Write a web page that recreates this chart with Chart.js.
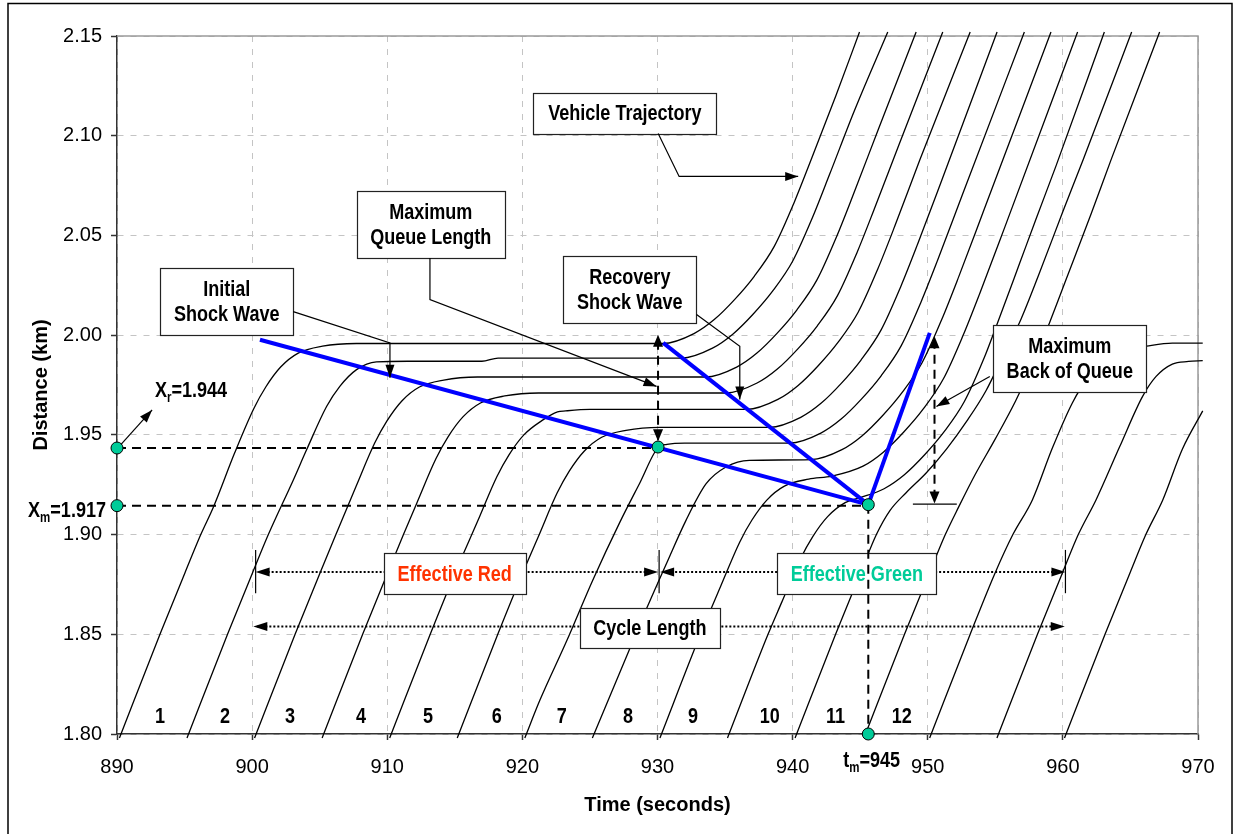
<!DOCTYPE html>
<html>
<head>
<meta charset="utf-8">
<script src="https://cdn.jsdelivr.net/npm/chart.js@4.4.1/dist/chart.umd.min.js"></script>
<style>
html,body{margin:0;padding:0;background:#fff;}
#wrap{width:1233px;height:834px;position:relative;}
</style>
</head>
<body>
<div id="wrap"><canvas id="c" width="1233" height="834"></canvas></div>
<script>
// ---------------- DATA ----------------
const timeTicks = [890, 900, 910, 920, 930, 940, 950, 960, 970];
const distTicks = [1.80, 1.85, 1.90, 1.95, 2.00, 2.05, 2.10, 2.15];
const vehicleNumbers = ['1','2','3','4','5','6','7','8','9','10','11','12'];
const vehicleNumberTimes = [893.18, 897.99, 902.8, 908.05, 913.01, 918.11, 922.92, 927.81, 932.62, 938.31, 943.17, 948.08];

// vehicle trajectories [time (s), distance (km)]
const traj01 = [[890.18,1.798],[893.18,1.85],[895.04,1.881],[896.2,1.90],[897.13,1.9137],[898.71,1.941],[900.11,1.963],[901.01,1.974],[902.11,1.984],[903.41,1.991],[905.21,1.9945],[907.71,1.9958],[930.4,1.9958],[932.7,2.0008],[934.2,2.0078],[935.7,2.0178],[937.16,2.0295],[938.64,2.0445],[940.1,2.0663],[941.36,2.0878],[943.2,2.120],[944.95,2.152]];
const traj02 = [[895.18,1.798],[898.18,1.85],[900.04,1.881],[901.2,1.90],[903.05,1.9274],[904.03,1.9425],[905.51,1.9642],[906.49,1.9743],[907.73,1.9827],[909.2,1.9866],[911.5,1.9869],[917.0,1.9869],[918.2,1.9885],[931.77,1.9885],[934.07,1.9935],[935.57,2.0005],[937.07,2.0105],[938.53,2.0222],[940.01,2.0372],[941.47,2.059],[942.73,2.0805],[944.57,2.1125],[947.04,2.152]];
const traj03 = [[900.18,1.798],[903.18,1.85],[905.04,1.881],[906.2,1.90],[907.68,1.924],[909.08,1.946],[909.98,1.957],[911.08,1.967],[912.38,1.974],[914.18,1.9775],[916.68,1.979],[933.56,1.979],[935.86,1.984],[937.36,1.991],[938.86,2.001],[940.32,2.0127],[941.8,2.0277],[943.26,2.0495],[944.52,2.071],[946.36,2.1035],[949.14,2.152]];
const traj04 = [[905.18,1.798],[908.18,1.85],[910.04,1.881],[911.2,1.90],[912.2,1.916],[913.6,1.938],[914.5,1.949],[915.6,1.959],[916.9,1.966],[918.7,1.9695],[921.2,1.971],[935.07,1.971],[937.37,1.976],[938.87,1.983],[940.37,1.993],[941.83,2.0047],[943.31,2.0197],[944.77,2.0415],[946.03,2.063],[947.87,2.0955],[951.11,2.152]];
const traj05 = [[910.18,1.798],[913.18,1.85],[915.04,1.881],[916.71,1.907],[918.11,1.929],[919.01,1.94],[920.11,1.95],[921.41,1.957],[922.6,1.9615],[923.2,1.962],[925.0,1.9628],[936.61,1.9628],[938.91,1.9678],[940.41,1.9748],[941.91,1.9848],[943.37,1.9965],[944.85,2.0115],[946.31,2.0333],[947.57,2.0548],[949.41,2.0878],[953.14,2.152]];
const traj06 = [[915.18,1.798],[918.18,1.85],[920.04,1.881],[921.17,1.8988],[922.57,1.9208],[923.47,1.9318],[924.57,1.9418],[925.87,1.9488],[927.67,1.9523],[930.17,1.9538],[938.3,1.9538],[940.6,1.9588],[942.1,1.9658],[943.6,1.9758],[945.06,1.9875],[946.54,2.0025],[948.0,2.0243],[949.26,2.0458],[951.1,2.0788],[955.13,2.152]];
const traj07 = [[920.18,1.798],[921.3,1.817],[923.3,1.847],[925.2,1.877],[927.2,1.906],[928.7,1.926],[930.04,1.9436],[930.7,1.9452],[932.0,1.9459],[939.79,1.9459],[942.09,1.9509],[943.59,1.9579],[945.09,1.9679],[946.55,1.9796],[948.03,1.9946],[949.49,2.0164],[950.75,2.0379],[952.59,2.0709],[957.15,2.152]];
const traj08 = [[925.18,1.798],[927.9,1.842],[929.2,1.863],[930.7,1.886],[932.1,1.907],[933.6,1.9255],[935.1,1.934],[936.8,1.9372],[941.35,1.9376],[943.65,1.9426],[945.15,1.9496],[946.65,1.9596],[948.11,1.9713],[949.59,1.9863],[951.05,2.0081],[952.31,2.0296],[954.15,2.0626],[959.12,2.152]];
const traj09 = [[930.18,1.798],[933.18,1.85],[934.69,1.8743],[936.09,1.8963],[936.99,1.9073],[938.09,1.9173],[939.39,1.9243],[941.19,1.9278],[942.91,1.9293],[945.21,1.9343],[946.71,1.9413],[948.21,1.9513],[949.67,1.963],[951.15,1.978],[952.61,1.9998],[953.87,2.0213],[955.71,2.0543],[961.09,2.152]];
const traj10 = [[935.18,1.798],[938.18,1.85],[939.19,1.866],[940.59,1.888],[941.49,1.899],[942.59,1.909],[943.89,1.916],[945.0,1.9185],[946.77,1.923],[948.27,1.930],[949.77,1.940],[951.23,1.9517],[952.71,1.9667],[954.17,1.9885],[955.1,2.005],[956.8,2.036],[958.0,2.058],[959.5,2.085],[963.07,2.152]];
const traj11 = [[940.18,1.798],[943.18,1.85],[945.04,1.881],[946.2,1.90],[947.2,1.912],[948.4,1.921],[949.9,1.931],[951.4,1.943],[952.9,1.957],[954.3,1.972],[955.6,1.99],[956.9,2.008],[958.2,2.03],[960.0,2.062],[961.5,2.088],[965.09,2.152]];
const traj12 = [[945.28,1.798],[948.28,1.85],[950.14,1.881],[951.3,1.90],[952.3,1.914],[953.5,1.93],[955.0,1.948],[956.5,1.967],[957.8,1.986],[959.0,2.006],[960.3,2.029],[962.1,2.061],[963.57,2.088],[967.16,2.152]];
const traj13 = [[950.14,1.798],[953.14,1.85],[955.0,1.881],[956.3,1.90],[957.75,1.9175],[959.2,1.943],[960.7,1.966],[961.9,1.979],[963.3,1.988],[965.0,1.993],[966.2,1.9945],[968.1,1.996],[970.35,1.996]];
const traj14 = [[955.12,1.798],[958.12,1.85],[959.98,1.881],[961.14,1.90],[962.46,1.9175],[964.2,1.944],[965.9,1.9693],[966.9,1.9793],[968.1,1.9855],[969.3,1.9868],[970.35,1.9872]];
const traj15 = [[960.12,1.798],[963.12,1.85],[964.98,1.881],[966.14,1.90],[967.4,1.9175],[968.84,1.9428],[970.35,1.962]];

// shock waves
const shockInitial  = [[900.58,1.9977],[945.6,1.915]];
const shockRecovery = [[930.42,1.9961],[945.6,1.915]];
const shockFront    = [[945.6,1.915],[950.15,2.0011]];

// reference points and guide lines
const keyPoints   = [[890,1.9434],[890,1.9145],[930.04,1.9439],[945.6,1.915],[945.6,1.80]];
const xrGuide     = [[890,1.9434],[930.04,1.9434]];
const xmGuide     = [[890,1.9145],[945.6,1.9145]];
const tmGuide     = [[945.6,1.915],[945.6,1.80]];
const queueGuide  = [[930.04,1.9475],[930.04,1.998]];
const backGuide   = [[950.5,1.918],[950.5,1.997]];

// signal timing (s)
const redStart = 900.26, greenStart = 930.12, cycleEnd = 960.19;
const cycleStartArrow = 900.09, cycleEndArrow = 960.14;

// ---------------- DRAWING ----------------
const FONT = '"Liberation Sans", Arial, Helvetica, sans-serif';
const toXY = a => a.map(p => ({x:p[0], y:p[1]}));

const trajectories = [traj01,traj02,traj03,traj04,traj05,traj06,traj07,traj08,traj09,traj10,traj11,traj12,traj13,traj14,traj15];
const datasets = trajectories.map(tr => ({
  data: toXY(tr), showLine:true, borderColor:'#000', borderWidth:1.3, pointRadius:0,
  cubicInterpolationMode:'monotone', order:10, clip:{left:6,top:6,right:6,bottom:6}
}));
[xrGuide, xmGuide, tmGuide, queueGuide, backGuide].forEach(g => datasets.push({
  data: toXY(g), showLine:true, borderColor:'#000', borderWidth:2, borderDash:[9,6],
  pointRadius:0, order:3, clip:false
}));
[shockInitial, shockRecovery, shockFront].forEach(s => datasets.push({
  data: toXY(s), showLine:true, borderColor:'#0000FF', borderWidth:4, pointRadius:0, order:2, clip:false
}));
datasets.push({
  data: toXY(keyPoints), showLine:false, pointRadius:6, pointBackgroundColor:'#00CC99',
  pointBorderColor:'#000', pointBorderWidth:1, order:0, clip:false
});

const boxes = [
  {lines:['Vehicle Trajectory'], t:927.59, d:2.1113, w:183, h:41},
  {lines:['Maximum','Queue Length'], t:913.22, d:2.0556, w:148, h:67},
  {lines:['Initial','Shock Wave'], t:898.12, d:2.0168, w:133, h:67},
  {lines:['Recovery','Shock Wave'], t:927.95, d:2.0228, w:133, h:67},
  {lines:['Maximum','Back of Queue'], t:960.51, d:1.9885, w:153, h:67},
  {lines:['Effective Red'], t:914.99, d:1.8804, w:142, h:41, color:'#FF3300'},
  {lines:['Effective Green'], t:944.75, d:1.8804, w:159, h:41, color:'#00CC99'},
  {lines:['Cycle Length'], t:929.43, d:1.853, w:140, h:40}
];
const leaders = [
  [[930.05,2.1011],[931.6,2.0796],[940.41,2.0796]],
  [[913.16,2.0387],[913.16,2.0178],[929.93,1.9743]],
  [[903.04,2.0118],[910.2,1.9961],[910.2,1.9786]],
  [[932.89,2.0103],[936.09,1.9944],[936.09,1.9677]],
  [[954.59,1.9793],[950.64,1.9642]],
  [[890.3,1.9452],[892.6,1.9625]]
];

function ntext(ctx, str, x, y, size, color, align, baseline){
  ctx.save();
  ctx.font = 'bold ' + size + 'px ' + FONT;
  ctx.fillStyle = color || '#000';
  ctx.textAlign = align || 'center';
  ctx.textBaseline = baseline || 'middle';
  ctx.translate(x, y); ctx.scale(0.82, 1);
  ctx.fillText(str, 0, 0);
  ctx.restore();
}
function nwidth(ctx, str, size){
  ctx.save(); ctx.font = 'bold ' + size + 'px ' + FONT;
  const w = ctx.measureText(str).width * 0.82; ctx.restore(); return w;
}
function head(ctx, x1, y1, x2, y2, len, half){
  const a = Math.atan2(y2-y1, x2-x1);
  const c = Math.cos(a), s = Math.sin(a);
  ctx.beginPath();
  ctx.moveTo(x2, y2);
  ctx.lineTo(x2 - len*c + half*s, y2 - len*s - half*c);
  ctx.lineTo(x2 - len*c - half*s, y2 - len*s + half*c);
  ctx.closePath(); ctx.fill();
}
function subLabel(ctx, x, y, main, sub, rest){
  let cx = x;
  ntext(ctx, main, cx, y, 22, '#000', 'left', 'alphabetic'); cx += nwidth(ctx, main, 22);
  ntext(ctx, sub, cx, y + 5, 14, '#000', 'left', 'alphabetic'); cx += nwidth(ctx, sub, 14);
  ntext(ctx, rest, cx, y, 22, '#000', 'left', 'alphabetic');
}

const annot = {
  id:'annot',
  beforeDraw(chart){
    const ctx = chart.ctx; ctx.save(); ctx.fillStyle = '#fff';
    ctx.fillRect(0, 0, chart.width, chart.height); ctx.restore();
  },
  beforeDatasetsDraw(chart){
    const {ctx, chartArea:a} = chart;
    ctx.save(); ctx.strokeStyle = '#9a9a9a'; ctx.lineWidth = 1.5;
    ctx.beginPath(); ctx.moveTo(a.left, a.top); ctx.lineTo(a.right, a.top); ctx.lineTo(a.right, a.bottom); ctx.stroke();
    ctx.restore();
  },
  afterDatasetDraw(chart, args){
    if (args.index !== 0) return;
    const ctx = chart.ctx, X = chart.scales.x, Y = chart.scales.y;
    const px = v => X.getPixelForValue(v), py = v => Y.getPixelForValue(v);
    // dimension lines
    ctx.save();
    ctx.strokeStyle = '#000'; ctx.fillStyle = '#000'; ctx.lineWidth = 2; ctx.setLineDash([2,2]);
    const yRG = py(1.8812), yC = py(1.8539);
    ctx.beginPath(); ctx.moveTo(px(redStart)+4, yRG); ctx.lineTo(px(greenStart)-4, yRG); ctx.stroke();
    ctx.beginPath(); ctx.moveTo(px(greenStart)+4, yRG); ctx.lineTo(px(cycleEnd)-4, yRG); ctx.stroke();
    ctx.beginPath(); ctx.moveTo(px(cycleStartArrow)+4, yC); ctx.lineTo(px(cycleEndArrow)-4, yC); ctx.stroke();
    ctx.setLineDash([]); ctx.lineWidth = 1.2;
    [redStart, greenStart, cycleEnd].forEach(t => {
      ctx.beginPath(); ctx.moveTo(px(t), py(1.8923)); ctx.lineTo(px(t), py(1.8706)); ctx.stroke();
    });
    head(ctx, px(redStart)+20, yRG, px(redStart), yRG, 14, 4.5);
    head(ctx, px(greenStart)-20, yRG, px(greenStart)-1, yRG, 14, 4.5);
    head(ctx, px(greenStart)+20, yRG, px(greenStart)+1, yRG, 14, 4.5);
    head(ctx, px(cycleEnd)-20, yRG, px(cycleEnd), yRG, 14, 4.5);
    head(ctx, px(cycleStartArrow)+20, yC, px(cycleStartArrow), yC, 14, 4.5);
    head(ctx, px(cycleEndArrow)-20, yC, px(cycleEndArrow), yC, 14, 4.5);
    // boxes
    boxes.forEach(b => {
      const cx = px(b.t), cy = py(b.d);
      const x0 = Math.round(cx - b.w/2) + 0.5, y0 = Math.round(cy - b.h/2) + 0.5;
      ctx.fillStyle = '#fff'; ctx.fillRect(x0, y0, b.w, b.h);
      ctx.strokeStyle = '#222'; ctx.lineWidth = 1.2; ctx.strokeRect(x0, y0, b.w, b.h);
      const n = b.lines.length;
      b.lines.forEach((ln, i) => {
        const ly = cy + (i - (n-1)/2) * 25 + 1;
        ntext(ctx, ln, cx, ly, 22, b.color || '#000', 'center', 'middle');
      });
    });
    ctx.restore();
  },
  afterDatasetsDraw(chart){
    const ctx = chart.ctx, X = chart.scales.x, Y = chart.scales.y;
    const px = v => X.getPixelForValue(v), py = v => Y.getPixelForValue(v);
    ctx.save();
    ctx.strokeStyle = '#000'; ctx.fillStyle = '#000'; ctx.lineWidth = 1.2; ctx.setLineDash([]);
    // leader lines with arrows
    leaders.forEach(L => {
      const pts = L.map(p => [px(p[0]), py(p[1])]);
      ctx.beginPath(); ctx.moveTo(pts[0][0], pts[0][1]);
      for (let i = 1; i < pts.length; i++) ctx.lineTo(pts[i][0], pts[i][1]);
      ctx.stroke();
      const a = pts[pts.length-2], b = pts[pts.length-1];
      head(ctx, a[0], a[1], b[0], b[1], 13, 4.5);
    });
    // dashed guide arrowheads
    head(ctx, px(930.04), py(1.98), px(930.04), py(2.0002), 12, 5);
    head(ctx, px(930.04), py(1.96), px(930.04), py(1.9468), 12, 5);
    head(ctx, px(950.5), py(1.98), px(950.5), py(1.9994), 12, 5);
    head(ctx, px(950.5), py(1.93), px(950.5), py(1.9156), 12, 5);
    // back-of-queue reference tick
    ctx.beginPath(); ctx.moveTo(px(948.9), py(1.9153)); ctx.lineTo(px(952.15), py(1.9153)); ctx.stroke();
    // labels
    subLabel(ctx, px(892.81), py(1.969), 'X', 'r', '=1.944');
    subLabel(ctx, px(883.42), py(1.909), 'X', 'm', '=1.917');
    subLabel(ctx, px(943.74), py(1.7836), 't', 'm', '=945');
    vehicleNumbers.forEach((s, i) => ntext(ctx, s, px(vehicleNumberTimes[i]), py(1.8054), 22, '#000', 'center', 'alphabetic'));
    // axis titles
    ctx.font = 'bold 20px ' + FONT; ctx.textAlign = 'center'; ctx.textBaseline = 'middle';
    ctx.fillText('Time (seconds)', (chart.chartArea.left + chart.chartArea.right)/2, 805);
    ctx.save(); ctx.translate(41, (chart.chartArea.top + chart.chartArea.bottom)/2); ctx.rotate(-Math.PI/2);
    ctx.fillText('Distance (km)', 0, 0); ctx.restore();
    // outer frame
    ctx.strokeStyle = '#000'; ctx.lineWidth = 1.5;
    ctx.strokeRect(8, 3.5, 1224, 850);
    ctx.restore();
  }
};

new Chart(document.getElementById('c').getContext('2d'), {
  type:'scatter',
  data:{datasets},
  options:{
    responsive:false, animation:false, devicePixelRatio:1,
    layout:{padding:{left:0, right:35, top:36, bottom:0}},
    plugins:{legend:{display:false}, tooltip:{enabled:false}},
    scales:{
      x:{
        type:'linear', min:890, max:970,
        afterBuildTicks: s => { s.ticks = timeTicks.map(v => ({value:v})); },
        ticks:{color:'#000', font:{size:20, family:FONT}, padding:15, maxRotation:0, callback: v => String(v)},
        grid:{color:'#c4c4c4', lineWidth:1, tickLength:6, tickColor:'#333', tickWidth:1.5},
        border:{color:'#333', width:1.5, dash:[6,7]},
        afterFit: s => { s.height = 100; }
      },
      y:{
        type:'linear', min:1.80, max:2.15,
        afterBuildTicks: s => { s.ticks = distTicks.map(v => ({value:v})); },
        ticks:{color:'#000', font:{size:20, family:FONT}, padding:9, callback: v => Number(v).toFixed(2)},
        grid:{color:'#c4c4c4', lineWidth:1, tickLength:6, tickColor:'#333', tickWidth:1.5},
        border:{color:'#333', width:1.5, dash:[6,7]},
        afterFit: s => { s.width = 117; }
      }
    }
  },
  plugins:[annot]
});
</script>
</body>
</html>
